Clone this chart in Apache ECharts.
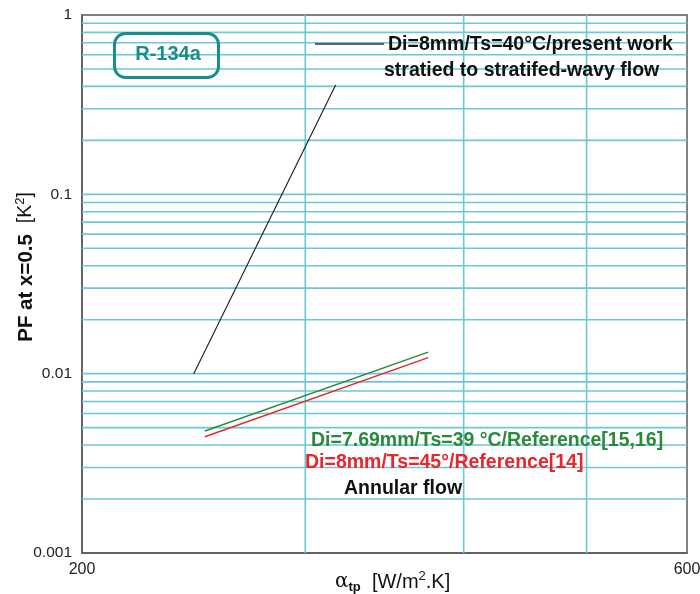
<!DOCTYPE html>
<html>
<head>
<meta charset="utf-8">
<script src="https://cdn.jsdelivr.net/npm/echarts@6/dist/echarts.min.js"></script>
<style>
html,body{margin:0;padding:0;background:#fff;}
#chart{width:700px;height:594px;}
</style>
</head>
<body>
<div id="chart"></div>
<script>
// ---- data ----
const stratX = [245, 317];          // present work, stratified to stratified-wavy
const stratY = [0.0100, 0.407];
const ref1516X = [250, 375];        // Di=7.69mm/Ts=39°C/Reference[15,16]
const ref1516Y = [0.00479, 0.0132];
const ref14X = [250, 375];          // Di=8mm/Ts=45°/Reference[14]
const ref14Y = [0.00445, 0.0123];

const xTickLabels = [200, 600];
const yTickLabels = ['0.001', '0.01', '0.1', '1'];
const xGridValues = [300, 400, 500];
const yGridValues = [0.002, 0.003, 0.004, 0.005, 0.006, 0.007, 0.008, 0.009,
                     0.01, 0.02, 0.03, 0.04, 0.05, 0.06, 0.07, 0.08, 0.09,
                     0.1, 0.2, 0.3, 0.4, 0.5, 0.6, 0.7, 0.8, 0.9];

const seriesNames = ['Di=8mm/Ts=40°C/present work', 'Di=7.69mm/Ts=39 °C/Reference[15,16]', 'Di=8mm/Ts=45°/Reference[14]'];

const FONT = "'Liberation Sans', Arial, Helvetica, sans-serif";
const GRID_COLOR = '#6ac9d4';
const X_MIN = 200, X_MAX = 600, Y_MIN = 0.001, Y_MAX = 1;

function pairs(xs, ys) { return xs.map((x, i) => [x, ys[i]]); }

// gridline items: [x, y, kind]  kind 0 = vertical at x, kind 1 = horizontal at y
const gridItems = xGridValues.map(v => [v, Y_MIN, 0]).concat(yGridValues.map(v => [X_MIN, v, 1]));

const chart = echarts.init(document.getElementById('chart'), null, {renderer: 'canvas'});

chart.setOption({
  animation: false,
  backgroundColor: '#ffffff',
  grid: {left: 82, right: 13, top: 15, bottom: 41, containLabel: false, outerBoundsMode: 'none',
         show: true, borderColor: '#5a5a5a', borderWidth: 1.5, backgroundColor: 'transparent'},
  xAxis: {
    type: 'log', logBase: 10, min: X_MIN, max: X_MAX,
    axisLine: {show: true, lineStyle: {color: '#5a5a5a', width: 1.5}},
    axisTick: {show: false},
    splitLine: {show: false},
    axisLabel: {
      color: '#222', fontSize: 16, fontFamily: FONT, margin: 9,
      showMinLabel: true, showMaxLabel: true,
      formatter: function (v) {
        for (const t of xTickLabels) { if (Math.abs(v - t) < 0.5) return String(t); }
        return '';
      }
    }
  },
  yAxis: {
    type: 'log', logBase: 10, min: Y_MIN, max: Y_MAX,
    axisLine: {show: true, lineStyle: {color: '#5a5a5a', width: 1.5}},
    axisTick: {show: false},
    splitLine: {show: false},
    axisLabel: {
      color: '#222', fontSize: 15.5, fontFamily: FONT, margin: 10,
      formatter: function (v) {
        const idx = Math.round(Math.log10(v)) + 3;
        return yTickLabels[idx] !== undefined ? yTickLabels[idx] : '';
      }
    }
  },
  series: [
    {
      name: 'grid', type: 'custom', data: gridItems, silent: true, z: 1,
      encode: {x: 0, y: 1},
      clip: false,
      renderItem: function (params, api) {
        const kind = api.value(2);
        let p1, p2;
        if (kind === 0) {
          const x = api.value(0);
          p1 = api.coord([x, Y_MIN]); p2 = api.coord([x, Y_MAX]);
        } else {
          const y = api.value(1);
          p1 = api.coord([X_MIN, y]); p2 = api.coord([X_MAX, y]);
        }
        return {type: 'line', shape: {x1: p1[0], y1: p1[1], x2: p2[0], y2: p2[1]},
                style: {stroke: GRID_COLOR, lineWidth: 1.6}, silent: true};
      }
    },
    {
      name: seriesNames[0], type: 'line', data: pairs(stratX, stratY), z: 3,
      showSymbol: false, lineStyle: {color: '#1a1a1a', width: 1.1}
    },
    {
      name: seriesNames[1], type: 'line', data: pairs(ref1516X, ref1516Y), z: 3,
      showSymbol: false, lineStyle: {color: '#2a8a3c', width: 1.4}
    },
    {
      name: seriesNames[2], type: 'line', data: pairs(ref14X, ref14Y), z: 3,
      showSymbol: false, lineStyle: {color: '#e8262c', width: 1.4}
    }
  ],
  graphic: [
    // R-134a label box
    {type: 'rect', left: 113, top: 32, shape: {width: 104, height: 44, r: 11}, z: 10,
     style: {fill: 'transparent', stroke: '#1a8c8c', lineWidth: 3}},
    {type: 'text', x: 168, y: 54, z: 11,
     style: {text: 'R-134a', fill: '#1a8c8c', font: 'bold 20px ' + FONT, align: 'center', verticalAlign: 'middle'}},
    // present-work legend
    {type: 'line', shape: {x1: 315, y1: 44, x2: 384, y2: 44}, z: 10, style: {stroke: '#333', lineWidth: 1.5}},
    {type: 'text', x: 388, y: 45, z: 11,
     style: {text: seriesNames[0], fill: '#111', font: 'bold 19.5px ' + FONT, align: 'left', verticalAlign: 'middle'}},
    {type: 'text', x: 384, y: 71, z: 11,
     style: {text: 'stratied to stratifed-wavy flow', fill: '#111', font: 'bold 19.5px ' + FONT, align: 'left', verticalAlign: 'middle'}},
    // reference legends
    {type: 'text', x: 311, y: 441, z: 11,
     style: {text: seriesNames[1], fill: '#2a8a3c', font: 'bold 19.5px ' + FONT, align: 'left', verticalAlign: 'middle'}},
    {type: 'text', x: 305, y: 463, z: 11,
     style: {text: seriesNames[2], fill: '#e8262c', font: 'bold 19.5px ' + FONT, align: 'left', verticalAlign: 'middle'}},
    {type: 'text', x: 344, y: 489, z: 11,
     style: {text: 'Annular flow', fill: '#111', font: 'bold 19.5px ' + FONT, align: 'left', verticalAlign: 'middle'}},
    // x axis name
    {type: 'text', x: 335, y: 582, z: 11,
     style: {
       text: '{a|α}{s|tp}{n|  [W/m}{p|2}{n|.K]}', align: 'left', verticalAlign: 'middle',
       rich: {
         a: {fontSize: 20, fontFamily: 'DejaVu Serif, serif', fill: '#111', lineHeight: 24, verticalAlign: 'middle'},
         s: {fontSize: 13, fontWeight: 'bold', fontFamily: FONT, fill: '#111', lineHeight: 13, verticalAlign: 'bottom'},
         n: {fontSize: 20, fontFamily: FONT, fill: '#111', lineHeight: 24, verticalAlign: 'middle'},
         p: {fontSize: 13, fontFamily: FONT, fill: '#111', lineHeight: 13, verticalAlign: 'top'}
       }
     }},
    // y axis name
    {type: 'text', x: 26, y: 267, rotation: Math.PI / 2, z: 11,
     style: {
       text: '{b|PF at x=0.5}{n|  [K}{p|2}{n|]}', align: 'center', verticalAlign: 'middle',
       rich: {
         b: {fontSize: 20.5, fontWeight: 'bold', fontFamily: FONT, fill: '#111', lineHeight: 24, verticalAlign: 'middle'},
         n: {fontSize: 19.5, fontFamily: FONT, fill: '#111', lineHeight: 24, verticalAlign: 'middle'},
         p: {fontSize: 13, fontFamily: FONT, fill: '#111', lineHeight: 13, verticalAlign: 'top'}
       }
     }}
  ]
});
</script>
</body>
</html>
